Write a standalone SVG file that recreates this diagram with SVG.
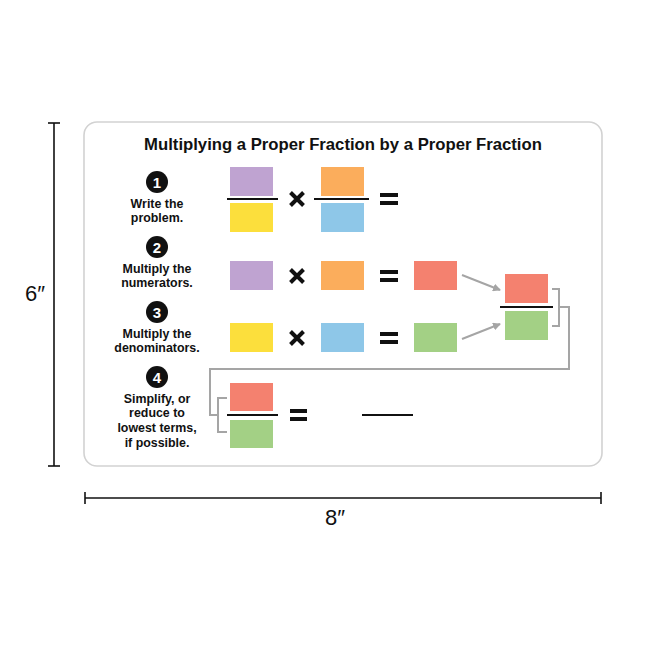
<svg xmlns="http://www.w3.org/2000/svg" width="645" height="645" viewBox="0 0 645 645">
<defs>
<style>
.t{font-family:"Century Gothic","Liberation Sans",Arial,sans-serif;font-weight:bold;fill:#111;}
.step{font-size:12.4px;text-anchor:middle;}
.num{font-family:"Liberation Sans",Arial,sans-serif;font-weight:bold;font-size:15px;fill:#fff;text-anchor:middle;}
.dim{font-family:"Liberation Sans",Arial,sans-serif;font-size:22px;fill:#111;text-anchor:middle;}
.bar{stroke:#111;stroke-width:2.2;}
.conn{fill:none;stroke:#a5a5a5;stroke-width:2;}
.pu{fill:#bfa3d1;} .ye{fill:#fcdf3c;} .or{fill:#fbad5c;} .bl{fill:#8ec7e8;} .re{fill:#f4816f;} .gr{fill:#a3d085;}
.op{stroke:#111;stroke-width:4;stroke-linecap:butt;}
</style>
<marker id="ah" markerWidth="8" markerHeight="8" refX="7" refY="4" orient="auto" markerUnits="userSpaceOnUse" viewBox="0 0 8 8">
<path d="M0,0 L8,4 L0,8 Z" fill="#a5a5a5"/>
</marker>
</defs>
<rect width="645" height="645" fill="#fff"/>

<g id="dimensions">
<line x1="54" y1="123" x2="54" y2="466" stroke="#111" stroke-width="1.6"/>
<line x1="48" y1="123" x2="60" y2="123" stroke="#111" stroke-width="1.6"/>
<line x1="48" y1="466" x2="60" y2="466" stroke="#111" stroke-width="1.6"/>
<text class="dim" x="35" y="301">6″</text>
<line x1="85" y1="498" x2="601" y2="498" stroke="#111" stroke-width="1.6"/>
<line x1="85" y1="492" x2="85" y2="504" stroke="#111" stroke-width="1.6"/>
<line x1="601" y1="492" x2="601" y2="504" stroke="#111" stroke-width="1.6"/>
<text class="dim" x="335" y="525">8″</text>
</g>

<g id="card">
<rect x="84" y="122" width="518" height="344" rx="13" fill="#fff" stroke="#d2d2d2" stroke-width="1.6"/>
<text class="t" x="343" y="150" font-size="16.7" text-anchor="middle">Multiplying a Proper Fraction by a Proper Fraction</text>
</g>

<g id="step1">
<circle cx="157" cy="182" r="11" fill="#111"/>
<text class="num" x="157" y="187.5">1</text>
<text class="t step" x="157" y="208">Write the</text>
<text class="t step" x="157" y="222">problem.</text>
</g>
<g id="step2">
<circle cx="157" cy="247" r="11" fill="#111"/>
<text class="num" x="157" y="252.5">2</text>
<text class="t step" x="157" y="273">Multiply the</text>
<text class="t step" x="157" y="287">numerators.</text>
</g>
<g id="step3">
<circle cx="157" cy="312" r="11" fill="#111"/>
<text class="num" x="157" y="317.5">3</text>
<text class="t step" x="157" y="338">Multiply the</text>
<text class="t step" x="157" y="352">denominators.</text>
</g>
<g id="step4">
<circle cx="157" cy="377" r="11" fill="#111"/>
<text class="num" x="157" y="382.5">4</text>
<text class="t step" x="157" y="403">Simplify, or</text>
<text class="t step" x="157" y="417">reduce to</text>
<text class="t step" x="157" y="432">lowest terms,</text>
<text class="t step" x="157" y="447">if possible.</text>
</g>

<g id="row1">
<rect class="pu" x="230" y="167" width="43" height="29"/>
<line class="bar" x1="227" y1="199" x2="278" y2="199"/>
<rect class="ye" x="230" y="203" width="43" height="29"/>
<path class="op" d="M290.5,192.5 L303.5,205.5 M303.5,192.5 L290.5,205.5"/>
<rect class="or" x="321" y="167" width="43" height="29"/>
<line class="bar" x1="314" y1="199" x2="369" y2="199"/>
<rect class="bl" x="321" y="203" width="43" height="29"/>
<path class="op" d="M380,195 H398 M380,203 H398"/>
</g>

<g id="row2">
<rect class="pu" x="230" y="261" width="43" height="29"/>
<path class="op" d="M290.5,269.5 L303.5,282.5 M303.5,269.5 L290.5,282.5"/>
<rect class="or" x="321" y="261" width="43" height="29"/>
<path class="op" d="M380,272 H398 M380,280 H398"/>
<rect id="prodNum" class="re" x="414" y="261" width="43" height="29"/>
</g>

<g id="row3">
<rect class="ye" x="230" y="323" width="43" height="29"/>
<path class="op" d="M290.5,331.5 L303.5,344.5 M303.5,331.5 L290.5,344.5"/>
<rect class="bl" x="321" y="323" width="43" height="29"/>
<path class="op" d="M380,334 H398 M380,342 H398"/>
<rect id="prodDen" class="gr" x="414" y="323" width="43" height="29"/>
</g>

<g id="result">
<rect class="re" x="505" y="274" width="43" height="29"/>
<line class="bar" x1="500" y1="307" x2="553" y2="307"/>
<rect class="gr" x="505" y="311" width="43" height="29"/>
</g>

<g id="row4">
<rect class="re" x="230" y="383" width="43" height="28"/>
<line class="bar" x1="227" y1="415" x2="278" y2="415"/>
<rect class="gr" x="230" y="420" width="43" height="28"/>
<path class="op" d="M290,411 H307 M290,419 H307"/>
<line class="bar" x1="362" y1="415" x2="413" y2="415"/>
</g>

<g id="connectors">
<line class="conn" x1="462" y1="275" x2="500" y2="290" marker-end="url(#ah)"/>
<line class="conn" x1="462" y1="339" x2="500" y2="324" marker-end="url(#ah)"/>
<path class="conn" d="M552,289 H559 V326 H552"/>
<path class="conn" d="M559,307 H569 V369 H210 V415 H218"/>
<path class="conn" d="M227,398 H218 V432 H227"/>
</g>
</svg>
